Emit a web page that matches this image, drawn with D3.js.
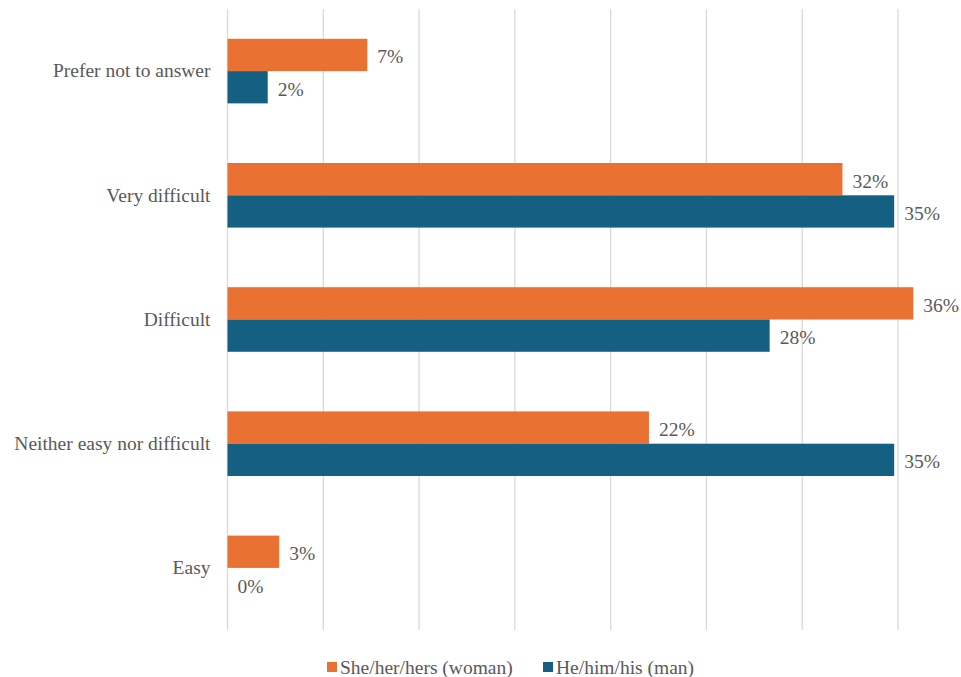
<!DOCTYPE html>
<html>
<head>
<meta charset="utf-8">
<script src="https://cdn.jsdelivr.net/npm/d3@7"></script>
<style>
  html, body { margin: 0; padding: 0; background: #fff; }
  svg { display: block; }
</style>
</head>
<body>
<svg id="chart" width="961" height="677" font-family="Liberation Serif"></svg>
<script>
// Survey answers, top to bottom
const categories = ["Prefer not to answer", "Very difficult", "Difficult", "Neither easy nor difficult", "Easy"];
const seriesNames = ["She/her/hers (woman)", "He/him/his (man)"];
const seriesColors = ["#E97132", "#156082"];
// Percent of respondents per answer
const women = [7.3, 32.1, 35.8, 22.0, 2.7];
const men = [2.1, 34.8, 28.3, 34.8, 0.0];
const xTicks = [0, 5, 10, 15, 20, 25, 30, 35];

const FONT = "Liberation Serif";
const TEXT = "#595959";
const SIZE = 19.5;

const svg = d3.select("#chart");
const plot = { left: 227.5, right: 898, top: 9, bottom: 630 };

const x = d3.scaleLinear().domain([0, 35]).range([plot.left, plot.right]);
const y = d3.scaleBand().domain(categories).range([plot.top, plot.bottom]).paddingInner(0.48).paddingOuter(0.24);
const sub = d3.scaleBand().domain(seriesNames).range([0, y.bandwidth()]);

// Vertical gridlines
svg.append("g")
  .selectAll("line")
  .data(xTicks)
  .join("line")
  .attr("x1", d => x(d)).attr("x2", d => x(d))
  .attr("y1", plot.top).attr("y2", plot.bottom)
  .attr("stroke", "#d9d9d9")
  .attr("stroke-width", 1.3);

// Category labels
const yAxis = svg.append("g")
  .attr("transform", `translate(${plot.left},0)`)
  .call(d3.axisLeft(y).tickSize(0).tickPadding(17));
yAxis.attr("font-family", FONT).attr("font-size", SIZE);
yAxis.select(".domain").remove();
yAxis.selectAll("text")
  .attr("font-size", SIZE)
  .attr("font-family", FONT)
  .attr("fill", TEXT);

const rows = categories.map((c, i) => ({ cat: c, vals: [women[i], men[i]] }));
const fmt = v => Math.round(v) + "%";

const groups = svg.append("g")
  .selectAll("g")
  .data(rows)
  .join("g")
  .attr("transform", d => `translate(0,${y(d.cat)})`);

const items = groups.selectAll("g")
  .data(d => d.vals.map((v, i) => ({ v, s: seriesNames[i], c: seriesColors[i] })))
  .join("g");

items.append("rect")
  .attr("x", x(0))
  .attr("y", d => sub(d.s))
  .attr("width", d => x(d.v) - x(0))
  .attr("height", sub.bandwidth())
  .attr("fill", d => d.c);

items.append("text")
  .attr("x", d => x(d.v) + 10)
  .attr("y", d => sub(d.s) + sub.bandwidth() / 2 + 2)
  .attr("dominant-baseline", "central")
  .attr("font-family", FONT)
  .attr("font-size", SIZE)
  .attr("fill", TEXT)
  .text(d => fmt(d.v));

// Legend
const legend = svg.append("g").attr("transform", "translate(0,667)");
const legendX = [327, 543];
const li = legend.selectAll("g")
  .data(seriesNames)
  .join("g")
  .attr("transform", (d, i) => `translate(${legendX[i]},0)`);
li.append("rect")
  .attr("x", 0).attr("y", -5)
  .attr("width", 10).attr("height", 10)
  .attr("fill", (d, i) => seriesColors[i]);
li.append("text")
  .attr("x", 13)
  .attr("y", 0)
  .attr("dominant-baseline", "central")
  .attr("font-family", FONT)
  .attr("font-size", SIZE)
  .attr("fill", TEXT)
  .text(d => d);
</script>
</body>
</html>
